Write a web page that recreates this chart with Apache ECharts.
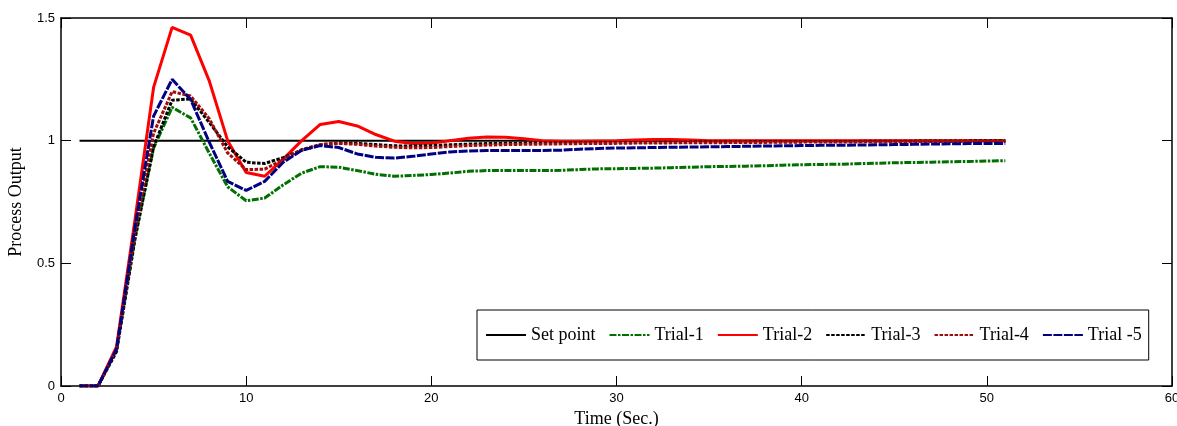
<!DOCTYPE html>
<html>
<head>
<meta charset="utf-8">
<script src="https://cdn.jsdelivr.net/npm/echarts@6/dist/echarts.min.js"></script>
<style>
  html, body { margin: 0; padding: 0; background: #fff; }
  #chart { width: 1177px; height: 426px; }
</style>
</head>
<body>
<div id="chart"></div>
<script>
const time = [1, 2, 3, 4, 5, 6, 7, 8, 9, 10, 11, 12, 13, 14, 15, 16, 17, 18, 19, 20,
  21, 22, 23, 24, 25, 26, 27, 28, 29, 30, 31, 32, 33, 34, 35, 36, 37, 38, 39, 40,
  41, 42, 43, 44, 45, 46, 47, 48, 49, 50, 51];

const setPointTime = [1, 51];
const setPoint = [1, 1];

const trial1 = [0, 0, 0.15, 0.61, 0.97, 1.136, 1.093, 0.95, 0.812, 0.755, 0.766, 0.82, 0.868, 0.894, 0.892, 0.878,
  0.863, 0.855, 0.858, 0.862, 0.868, 0.875, 0.878, 0.878, 0.878, 0.878, 0.879, 0.882, 0.885, 0.886,
  0.887, 0.888, 0.89, 0.892, 0.894, 0.895, 0.896, 0.898, 0.9, 0.902, 0.903, 0.904, 0.906, 0.908,
  0.91, 0.911, 0.912, 0.914, 0.915, 0.917, 0.918];

const trial2 = [0, 0, 0.16, 0.68, 1.217, 1.462, 1.43, 1.245, 1.0, 0.87, 0.855, 0.925, 1.0, 1.066, 1.078, 1.06,
  1.025, 0.998, 0.988, 0.99, 1.0, 1.01, 1.015, 1.014, 1.008, 1.0, 0.998, 0.998, 0.999, 1.0,
  1.003, 1.005, 1.005, 1.003, 1.0, 1.0, 1.0, 1.0, 1.0, 1.0, 1.0, 1.0, 1.0, 1.0,
  1.0, 1.0, 1.0, 1.0, 1.0, 1.0, 1.0];

const trial3 = [0, 0, 0.14, 0.6, 0.975, 1.165, 1.17, 1.075, 0.975, 0.912, 0.907, 0.931, 0.961, 0.983, 0.991, 0.989,
  0.984, 0.979, 0.978, 0.98, 0.983, 0.986, 0.988, 0.989, 0.99, 0.99, 0.991, 0.991, 0.992, 0.992,
  0.993, 0.993, 0.994, 0.994, 0.995, 0.995, 0.995, 0.996, 0.996, 0.996, 0.997, 0.997, 0.997, 0.998,
  0.998, 0.998, 0.999, 0.999, 0.999, 1.0, 1.0];

const trial4 = [0, 0, 0.15, 0.63, 1.03, 1.2, 1.182, 1.09, 0.95, 0.882, 0.884, 0.923, 0.964, 0.984, 0.989, 0.985,
  0.978, 0.973, 0.971, 0.972, 0.976, 0.98, 0.982, 0.984, 0.985, 0.986, 0.987, 0.988, 0.988, 0.989,
  0.99, 0.99, 0.991, 0.991, 0.992, 0.992, 0.993, 0.993, 0.994, 0.994, 0.995, 0.995, 0.995, 0.996,
  0.996, 0.996, 0.997, 0.997, 0.997, 0.998, 0.998];

const trial5 = [0, 0, 0.15, 0.65, 1.1, 1.25, 1.168, 0.995, 0.834, 0.797, 0.834, 0.912, 0.961, 0.98, 0.972, 0.946,
  0.932, 0.929, 0.936, 0.946, 0.954, 0.958, 0.96, 0.96, 0.96, 0.96, 0.961, 0.965, 0.968, 0.97,
  0.971, 0.972, 0.973, 0.974, 0.975, 0.976, 0.977, 0.978, 0.979, 0.98, 0.981, 0.981, 0.982, 0.983,
  0.984, 0.985, 0.986, 0.987, 0.988, 0.988, 0.989];

const xTicks = { min: 0, max: 60, interval: 10 };
const yTicks = { min: 0, max: 1.5, interval: 0.5 };

const pairs = (xs, ys) => xs.map((x, i) => [x, ys[i]]);

const chart = echarts.init(document.getElementById('chart'));

const serif = '"Liberation Serif", "Times New Roman", serif';
const sans = '"Liberation Sans", Arial, sans-serif';

function trial(name, values, color, type) {
  return {
    name: name,
    type: 'line',
    data: pairs(time, values),
    symbol: 'none',
    lineStyle: { color: color, width: 3, type: type },
    itemStyle: { color: color }
  };
}

// box round the plot: ticks point inwards on all four sides
const boxAxis = {
  type: 'value',
  axisLine: { show: true, onZero: false, lineStyle: { color: '#000', width: 1.5 } },
  axisTick: { show: true, inside: true, length: 10, lineStyle: { color: '#000' } },
  splitLine: { show: false }
};

chart.setOption({
  animation: false,
  backgroundColor: '#fff',
  grid: { left: 61, right: 5, top: 18, bottom: 40, outerBoundsMode: 'none', containLabel: false },
  legend: {
    left: 477,
    top: 310,
    orient: 'horizontal',
    backgroundColor: '#fff',
    borderColor: '#000',
    borderWidth: 1,
    padding: [16, 7, 16, 8],
    itemWidth: 40,
    itemHeight: 14,
    itemGap: 13,
    itemStyle: { color: 'transparent', borderWidth: 0, opacity: 0 },
    textStyle: { fontFamily: serif, fontSize: 18, color: '#000' },
    data: ['Set point', 'Trial-1', 'Trial-2', 'Trial-3', 'Trial-4', 'Trial -5']
  },
  xAxis: [
    Object.assign({}, boxAxis, xTicks, {
      position: 'bottom',
      name: 'Time (Sec.)',
      nameLocation: 'middle',
      nameGap: 21,
      nameTextStyle: { fontFamily: serif, fontSize: 18, color: '#000' },
      axisLabel: { fontFamily: sans, fontSize: 13, color: '#000', margin: 6 }
    }),
    Object.assign({}, boxAxis, xTicks, { position: 'top', axisLabel: { show: false } })
  ],
  yAxis: [
    Object.assign({}, boxAxis, yTicks, {
      position: 'left',
      name: 'Process Output',
      nameLocation: 'middle',
      nameGap: 36,
      nameTextStyle: { fontFamily: serif, fontSize: 18, color: '#000' },
      axisLabel: { fontFamily: sans, fontSize: 13, color: '#000', margin: 6 }
    }),
    Object.assign({}, boxAxis, yTicks, { position: 'right', axisLabel: { show: false } })
  ],
  series: [
    {
      name: 'Set point',
      type: 'line',
      data: pairs(setPointTime, setPoint),
      symbol: 'none',
      lineStyle: { color: '#000', width: 2 },
      itemStyle: { color: '#000' }
    },
    trial('Trial-1', trial1, '#007000', [7, 1.5, 2.5, 1.5]),
    trial('Trial-2', trial2, '#ff0000', 'solid'),
    trial('Trial-3', trial3, '#000000', [3.5, 1.5]),
    trial('Trial-4', trial4, '#a00c0c', [3.5, 1.5]),
    trial('Trial -5', trial5, '#000080', [9, 1.5])
  ]
});
</script>
</body>
</html>
